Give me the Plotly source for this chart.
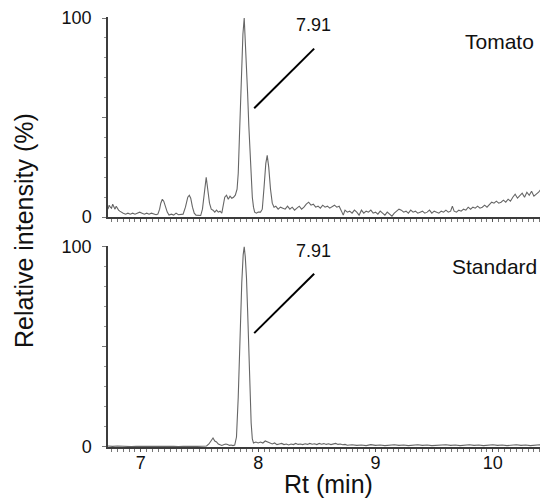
import plotly.graph_objects as go

# ---- data (retention time in min, relative intensity in %) ----
tomato_points = [
    (6.72, 4), (6.73, 6), (6.74, 5), (6.75, 4.5), (6.76, 6.5), (6.77, 5), (6.78, 4), (6.79, 5.5),
    (6.80, 4), (6.81, 3.5), (6.82, 3), (6.83, 2.5), (6.85, 2), (6.87, 1.5), (6.89, 2), (6.91, 1.5),
    (6.93, 2), (6.95, 1.5), (6.97, 2), (6.99, 2.5), (7.01, 2), (7.03, 1.5), (7.05, 2), (7.07, 1.5),
    (7.09, 2), (7.11, 1.5), (7.13, 1.2), (7.145, 1.5), (7.16, 4), (7.17, 7), (7.183, 9), (7.195, 8),
    (7.21, 5), (7.225, 2.5), (7.24, 1), (7.26, 1.5), (7.28, 1), (7.30, 2), (7.32, 1.2), (7.34, 1.5),
    (7.36, 1.5), (7.38, 5), (7.40, 10), (7.413, 11), (7.425, 9.5), (7.44, 5), (7.455, 2), (7.47, 1),
    (7.49, 1), (7.51, 0.8), (7.525, 4), (7.54, 12), (7.557, 20), (7.57, 14), (7.585, 7), (7.60, 4),
    (7.615, 3.5), (7.63, 2.5), (7.645, 3.5), (7.66, 2.5), (7.675, 3), (7.69, 2), (7.70, 5),
    (7.715, 10), (7.73, 11), (7.745, 9), (7.76, 10.5), (7.775, 9.5), (7.79, 10), (7.805, 11),
    (7.82, 14), (7.83, 22), (7.84, 40), (7.85, 60), (7.86, 78), (7.87, 92), (7.881, 100),
    (7.89, 90), (7.90, 78), (7.91, 62), (7.92, 46), (7.93, 32), (7.94, 20), (7.95, 10), (7.96, 5),
    (7.97, 2.5), (7.985, 2), (8.00, 2.5), (8.02, 2.5), (8.035, 4), (8.05, 15), (8.065, 27),
    (8.077, 31), (8.09, 25), (8.105, 14), (8.12, 7), (8.135, 5), (8.15, 5.5), (8.17, 4), (8.19, 5),
    (8.21, 4.5), (8.23, 4), (8.25, 5.5), (8.27, 4), (8.29, 5), (8.31, 3.5), (8.33, 4.5), (8.35, 5.5),
    (8.37, 4), (8.39, 5), (8.41, 6.5), (8.43, 7.5), (8.45, 6), (8.47, 6.5), (8.49, 5), (8.51, 5.5),
    (8.53, 4.5), (8.55, 6), (8.57, 5), (8.59, 5.5), (8.61, 4.5), (8.63, 5.5), (8.65, 6), (8.67, 5),
    (8.69, 5.5), (8.71, 3), (8.725, 1), (8.74, 3.5), (8.76, 2.5), (8.78, 3), (8.80, 2), (8.82, 3.5),
    (8.84, 2.5), (8.86, 1), (8.88, 3.5), (8.90, 2), (8.92, 3), (8.94, 2.5), (8.96, 3.5), (8.98, 2),
    (9.00, 2.5), (9.02, 1.5), (9.04, 3), (9.06, 2), (9.08, 1), (9.10, 2.5), (9.12, 1.5), (9.14, 0.5),
    (9.16, 2), (9.18, 3), (9.20, 4), (9.22, 3.5), (9.24, 2.5), (9.26, 3), (9.28, 2), (9.30, 3.5),
    (9.32, 2.5), (9.34, 3), (9.36, 2), (9.38, 2.5), (9.40, 3), (9.42, 2), (9.44, 2.5), (9.46, 3.5),
    (9.48, 2), (9.50, 3), (9.52, 2.5), (9.54, 2), (9.56, 3), (9.58, 2.5), (9.60, 3.5), (9.62, 2.5),
    (9.64, 3), (9.655, 5.5), (9.67, 3), (9.69, 2.5), (9.71, 3.5), (9.73, 3), (9.75, 4), (9.77, 3.5),
    (9.79, 5), (9.81, 4), (9.83, 5), (9.85, 4.5), (9.87, 5.5), (9.89, 4.5), (9.91, 5), (9.93, 6),
    (9.95, 5), (9.97, 6.5), (9.99, 7.5), (10.01, 7), (10.03, 8), (10.05, 7), (10.07, 7.5),
    (10.09, 8.5), (10.11, 7.5), (10.13, 9), (10.15, 8), (10.17, 10), (10.19, 11.5), (10.21, 9.5),
    (10.23, 11), (10.25, 12), (10.27, 10), (10.29, 12.5), (10.31, 11), (10.33, 13), (10.35, 10.5),
    (10.37, 11.5), (10.39, 12.5), (10.41, 14), (10.43, 12), (10.45, 13), (10.47, 11.5),
]

standard_points = [
    (6.72, 0.5), (6.76, 0.3), (6.80, 0.5), (6.84, 0.3), (6.88, 0.4), (6.92, 0.2), (6.96, 0.4),
    (7.00, 0.3), (7.04, 0.5), (7.08, 0.3), (7.12, 0.4), (7.16, 0.3), (7.20, 0.5), (7.24, 0.3),
    (7.28, 0.4), (7.32, 0.2), (7.36, 0.4), (7.40, 0.3), (7.44, 0.5), (7.48, 0.3), (7.52, 0.4),
    (7.56, 0.5), (7.58, 1.5), (7.60, 3), (7.615, 4.5), (7.63, 3), (7.645, 2.5), (7.66, 1.5),
    (7.675, 1), (7.69, 0.8), (7.71, 1.2), (7.725, 1.5), (7.74, 1.2), (7.755, 0.8), (7.77, 1),
    (7.785, 0.7), (7.80, 1), (7.815, 5), (7.83, 25), (7.845, 55), (7.86, 82), (7.872, 96),
    (7.881, 100), (7.89, 95), (7.90, 85), (7.91, 68), (7.92, 48), (7.93, 28), (7.94, 12),
    (7.95, 4), (7.96, 2), (7.98, 2.5), (8.00, 2), (8.02, 2.5), (8.04, 2), (8.06, 3), (8.08, 2.5),
    (8.10, 2), (8.12, 1.5), (8.14, 2), (8.16, 1.2), (8.18, 1.5), (8.20, 1.8), (8.22, 1.2),
    (8.24, 1.5), (8.26, 1), (8.28, 1.5), (8.30, 1.2), (8.32, 1.8), (8.34, 1.3), (8.36, 1.5),
    (8.38, 1.2), (8.40, 1.6), (8.42, 1.3), (8.44, 1.8), (8.46, 1.4), (8.48, 1.6), (8.50, 1.2),
    (8.52, 1.8), (8.54, 1.4), (8.56, 1.7), (8.58, 1.3), (8.60, 1.6), (8.62, 1.2), (8.64, 1.5),
    (8.66, 1.8), (8.68, 1.3), (8.70, 1.5), (8.72, 1.1), (8.74, 1.3), (8.76, 0.9), (8.80, 1.1),
    (8.84, 0.8), (8.88, 1.0), (8.92, 0.7), (8.96, 1.2), (9.00, 0.8), (9.04, 1.0), (9.08, 0.7),
    (9.12, 0.9), (9.16, 1.1), (9.20, 0.8), (9.24, 1.0), (9.28, 0.7), (9.32, 0.9), (9.36, 1.1),
    (9.40, 0.8), (9.44, 1.0), (9.48, 0.7), (9.52, 0.9), (9.56, 0.8), (9.60, 1.1), (9.64, 0.8),
    (9.68, 1.0), (9.72, 0.7), (9.76, 0.9), (9.80, 1.1), (9.84, 0.8), (9.88, 1.0), (9.92, 0.7),
    (9.96, 0.9), (10.00, 1.1), (10.04, 0.8), (10.08, 1.0), (10.12, 0.7), (10.16, 0.9),
    (10.20, 1.1), (10.24, 0.8), (10.28, 1.0), (10.32, 0.7), (10.36, 0.9), (10.40, 1.1),
    (10.44, 0.8), (10.47, 1.0),
]

x_ticks = [7, 8, 9, 10]
x_tick_labels = ["7", "8", "9", "10"]
y_ticks = [0, 50, 100]
y_tick_labels = ["0", "", "100"]
peak_label = "7.91"
panel_names = ["Tomato", "Standard"]

tomato_rt, tomato_int = zip(*tomato_points)
standard_rt, standard_int = zip(*standard_points)

FONT = "Arial, Liberation Sans, sans-serif"
TRACE_COLOR = "#666666"
AXIS_COLOR = "#3c3c3c"

fig = go.Figure()
fig.add_trace(go.Scatter(x=tomato_rt, y=tomato_int, mode="lines",
                         line=dict(color=TRACE_COLOR, width=1.1), xaxis="x", yaxis="y",
                         showlegend=False))
fig.add_trace(go.Scatter(x=standard_rt, y=standard_int, mode="lines",
                         line=dict(color=TRACE_COLOR, width=1.1), xaxis="x2", yaxis="y2",
                         showlegend=False))

xcommon = dict(range=[6.72, 10.47], showgrid=False, zeroline=False, showline=True,
               linecolor=AXIS_COLOR, linewidth=1.5, ticks="outside", ticklen=3,
               tickcolor="#555", tickwidth=1, tickvals=x_ticks,
               minor=dict(tick0=7, dtick=0.05, ticks="outside", ticklen=3,
                          tickcolor="#777", tickwidth=1, showgrid=False),
               tickfont=dict(family=FONT, size=18, color="#111"), ticklabelstandoff=-4)
ycommon = dict(range=[0, 100.5], showgrid=False, zeroline=False, showline=True,
               linecolor=AXIS_COLOR, linewidth=1.5, ticks="outside", ticklen=4,
               tickcolor="#777", tickwidth=1, tickvals=y_ticks, ticktext=y_tick_labels,
               minor=dict(tick0=0, dtick=10, ticks="outside", ticklen=2,
                          tickcolor="#999", tickwidth=1, showgrid=False),
               tickfont=dict(family=FONT, size=18, color="#111"), ticklabelstandoff=7)

# the page body adds an 8 px margin, so the figure is 8 px smaller and offset accordingly
fig.update_layout(
    width=540, height=492,
    margin=dict(l=100, r=0, t=5, b=53),
    paper_bgcolor="white", plot_bgcolor="white",
    font=dict(family=FONT, color="#111"),
    xaxis=dict(**xcommon, anchor="y", showticklabels=False),
    yaxis=dict(**ycommon, domain=[0.5346, 1.0], anchor="x"),
    xaxis2=dict(**xcommon, anchor="y2", ticktext=x_tick_labels),
    yaxis2=dict(**ycommon, domain=[0.0, 0.4677], anchor="x2"),
)

# annotation leader lines for the 7.91 peak
fig.add_shape(type="line", xref="x", yref="y", x0=7.966, y0=54.7, x1=8.477, y1=84.6,
              line=dict(color="black", width=2))
fig.add_shape(type="line", xref="x2", yref="y2", x0=7.966, y0=56.9, x1=8.477, y1=86.6,
              line=dict(color="black", width=2))

annots = [
    dict(x=8.468, y=96.5, xref="x", yref="y", text=peak_label, font=dict(size=18)),
    dict(x=8.468, y=98.0, xref="x2", yref="y2", text=peak_label, font=dict(size=18)),
    dict(x=10.06, y=88.0, xref="x", yref="y", text=panel_names[0], font=dict(size=21)),
    dict(x=10.01, y=90.0, xref="x2", yref="y2", text=panel_names[1], font=dict(size=21)),
    dict(x=0.5, y=-0.085, xref="paper", yref="paper", text="Rt (min)", font=dict(size=25)),
    dict(x=-0.191, y=0.5046, xref="paper", yref="paper", text="Relative intensity (%)",
         font=dict(size=25), textangle=-90),
]
for a in annots:
    a["font"]["family"] = FONT
    a["font"]["color"] = "#111"
    fig.add_annotation(showarrow=False, xanchor="center", yanchor="middle", **a)

fig.write_html("out.html")
